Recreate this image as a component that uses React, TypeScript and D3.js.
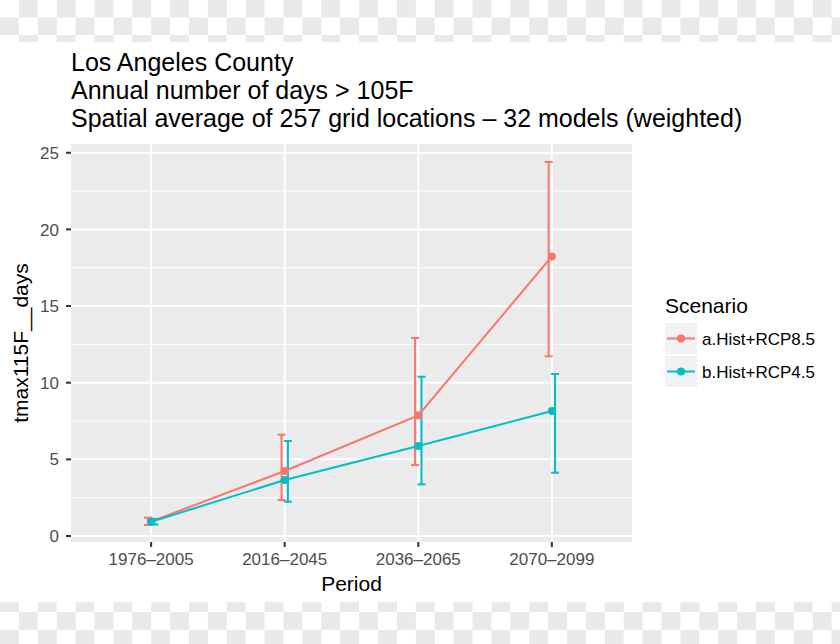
import React from "react";
import * as d3 from "d3";

const periods = ["1976–2005", "2016–2045", "2036–2065", "2070–2099"];
const rcp85Mean = [0.95, 4.24, 7.87, 18.24];
const rcp85Low = [0.72, 2.35, 4.63, 11.72];
const rcp85High = [1.2, 6.61, 12.92, 24.4];
const rcp45Mean = [0.93, 3.65, 5.87, 8.15];
const rcp45Low = [0.75, 2.24, 3.37, 4.13];
const rcp45High = [1.12, 6.2, 10.39, 10.57];
const yTicks = [0, 5, 10, 15, 20, 25];
const yMinor = [2.5, 7.5, 12.5, 17.5, 22.5];
const titleLines = [
  "Los Angeles County",
  "Annual number of days > 105F",
  "Spatial average of 257 grid locations – 32 models (weighted)",
];
const seriesNames = ["a.Hist+RCP8.5", "b.Hist+RCP4.5"];
const seriesColors = ["#F8766D", "#00BFC4"];

const W = 840;
const H = 644;
const panel = { left: 71, right: 632, top: 144, bottom: 542 };
const FONT = "'Liberation Sans', Arial, Helvetica, sans-serif";

function Checker({ y0, rows, offset }: { y0: number; rows: number[]; offset: number }) {
  const sq = 18.9;
  const cells: JSX.Element[] = [];
  let y = y0;
  rows.forEach((h, r) => {
    for (let i = 0; i * sq < W; i++) {
      if ((i + r + offset) % 2 === 0) {
        cells.push(<rect key={`${y0}-${r}-${i}`} x={i * sq} y={y} width={sq} height={h} fill="#E9E9E9" />);
      }
    }
    y += h;
  });
  return <g>{cells}</g>;
}

export default function App() {
  const x = d3.scalePoint<string>().domain(periods).range([panel.left, panel.right]).padding(0.6);
  const y = d3.scaleLinear().domain([-0.39, 25.57]).range([panel.bottom, panel.top]);

  const series = [
    { name: seriesNames[0], color: seriesColors[0], mean: rcp85Mean, low: rcp85Low, high: rcp85High, dodge: -3.2 },
    { name: seriesNames[1], color: seriesColors[1], mean: rcp45Mean, low: rcp45Low, high: rcp45High, dodge: 3.2 },
  ];

  const line = d3
    .line<number>()
    .x((_, i) => x(periods[i]) as number)
    .y((d) => y(d));

  const capHalf = 4;

  return (
    <svg
      width={W}
      height={H}
      style={{ position: "absolute", left: 0, top: 0, display: "block", background: "#FFFFFF" }}
      fontFamily={FONT}
    >
      <rect x={0} y={0} width={W} height={H} fill="#FFFFFF" />
      <Checker y0={0} rows={[17.5, 17.5, 7]} offset={1} />
      <Checker y0={602} rows={[10, 18, 14]} offset={0} />

      {/* title */}
      {titleLines.map((t, i) => (
        <text key={t} x={71} y={71 + i * 28} fontSize={25} fill="#000000">
          {t}
        </text>
      ))}

      {/* panel */}
      <rect x={panel.left} y={panel.top} width={panel.right - panel.left} height={panel.bottom - panel.top} fill="#EBEBEB" />
      {yMinor.map((v) => (
        <line key={`mn${v}`} x1={panel.left} x2={panel.right} y1={y(v)} y2={y(v)} stroke="#FFFFFF" strokeWidth={1} />
      ))}
      {yTicks.map((v) => (
        <line key={`mj${v}`} x1={panel.left} x2={panel.right} y1={y(v)} y2={y(v)} stroke="#FFFFFF" strokeWidth={2} />
      ))}
      {periods.map((p) => (
        <line key={`vx${p}`} x1={x(p)} x2={x(p)} y1={panel.top} y2={panel.bottom} stroke="#FFFFFF" strokeWidth={2} />
      ))}

      {/* error bars */}
      {series.map((s) =>
        periods.map((p, i) => {
          const cx = (x(p) as number) + s.dodge;
          return (
            <g key={`eb${s.name}${p}`} stroke={s.color} strokeWidth={2}>
              <line x1={cx} x2={cx} y1={y(s.low[i])} y2={y(s.high[i])} />
              <line x1={cx - capHalf} x2={cx + capHalf} y1={y(s.low[i])} y2={y(s.low[i])} />
              <line x1={cx - capHalf} x2={cx + capHalf} y1={y(s.high[i])} y2={y(s.high[i])} />
            </g>
          );
        })
      )}

      {/* lines */}
      {series.map((s) => (
        <path key={`ln${s.name}`} d={line(s.mean) as string} fill="none" stroke={s.color} strokeWidth={2} />
      ))}

      {/* points */}
      {series.map((s) =>
        s.mean.map((v, i) => (
          <circle key={`pt${s.name}${i}`} cx={x(periods[i]) as number} cy={y(v)} r={4} fill={s.color} />
        ))
      )}

      {/* y axis */}
      {yTicks.map((v) => (
        <g key={`yt${v}`}>
          <line x1={panel.left - 5} x2={panel.left} y1={y(v)} y2={y(v)} stroke="#333333" strokeWidth={2} />
          <text x={59} y={y(v)} dy="0.36em" textAnchor="end" fontSize={17} fill="#4D4D4D">
            {v}
          </text>
        </g>
      ))}
      {/* x axis */}
      {periods.map((p) => (
        <g key={`xt${p}`}>
          <line x1={x(p)} x2={x(p)} y1={panel.bottom} y2={panel.bottom + 5} stroke="#333333" strokeWidth={2} />
          <text x={x(p)} y={565} textAnchor="middle" fontSize={17} fill="#4D4D4D">
            {p}
          </text>
        </g>
      ))}

      <text x={(panel.left + panel.right) / 2} y={591} textAnchor="middle" fontSize={21} fill="#000000">
        Period
      </text>
      <text
        transform={`translate(28, ${(panel.top + panel.bottom) / 2}) rotate(-90)`}
        textAnchor="middle"
        fontSize={21}
        fill="#000000"
      >
        tmax115F__days
      </text>

      {/* legend */}
      <text x={665} y={313} fontSize={21} fill="#000000">
        Scenario
      </text>
      {series.map((s, i) => {
        const ky = 323 + i * 33;
        return (
          <g key={`lg${s.name}`}>
            <rect x={665} y={ky} width={32} height={31} fill="#F2F2F2" />
            <line x1={667} x2={695} y1={ky + 15.5} y2={ky + 15.5} stroke={s.color} strokeWidth={2} />
            <circle cx={681} cy={ky + 15.5} r={4} fill={s.color} />
            <text x={702} y={ky + 15.5} dy="0.36em" fontSize={17} fill="#000000">
              {s.name}
            </text>
          </g>
        );
      })}
    </svg>
  );
}
